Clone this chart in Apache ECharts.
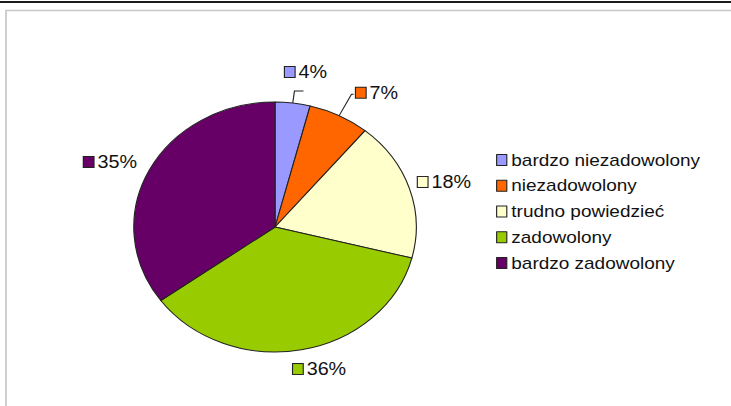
<!DOCTYPE html>
<html>
<head>
<meta charset="utf-8">
<script src="https://cdn.jsdelivr.net/npm/echarts@6/dist/echarts.min.js"></script>
<style>
  html, body { margin: 0; padding: 0; background: #fff; overflow: hidden; }
  /* the whole drawing is widened horizontally */
  #chart { width: 647px; height: 406px; transform: scaleX(1.13); transform-origin: 0 0; }
</style>
</head>
<body>
<div id="chart"></div>
<script>
// survey answers (percent of respondents)
const categories = ['bardzo niezadowolony', 'niezadowolony', 'trudno powiedzieć', 'zadowolony', 'bardzo zadowolony'];
const shares = [4, 7, 18, 36, 35];
const colors = ['#9999FF', '#FF6600', '#FFFFCC', '#99CC00', '#660066'];

const FONT = "Arial, 'Liberation Sans', sans-serif";
const CENTER = [243.4, 227];
const RADIUS = 125;

// leader line per slice
const leader = [
  { show: true,  length: 12, length2: 8 },
  { show: true,  length: 24, length2: 2 },
  { show: false, length: 12, length2: 8 },
  { show: false, length: 12, length2: 8 },
  { show: false, length: 12, length2: 8 }
];
// fine placement of each slice label relative to its default spot
const labelShift = [[-20.4, -19.1], [-2, -1.5], [-15.9, -2.7], [-21.7, 7.5], [12.9, -2.8]];

const rich = { v: { fontFamily: FONT, fontSize: 17.5, color: '#111', lineHeight: 18, padding: [0, 0, 0, 3.5] } };
colors.forEach((c, i) => {
  rich['s' + i] = { width: 8.5, height: 10, backgroundColor: c, borderColor: '#222', borderWidth: 1 };
});

const chart = echarts.init(document.getElementById('chart'), null, { renderer: 'svg' });
chart.setOption({
  animation: false,
  backgroundColor: '#fff',
  color: colors,
  graphic: [
    { type: 'rect', silent: true, shape: { x: 0, y: 1, width: 700, height: 2 }, style: { fill: '#1c1c1c' } },
    { type: 'rect', silent: true, shape: { x: 5.3, y: 10.5, width: 700, height: 500 },
      style: { fill: 'none', stroke: '#c8c8c8', lineWidth: 1.5 } }
  ],
  legend: {
    orient: 'vertical',
    left: 439,
    top: 151,
    padding: 0,
    itemWidth: 9,
    itemHeight: 11,
    itemGap: 7.75,
    icon: 'rect',
    itemStyle: { borderColor: '#222', borderWidth: 1 },
    textStyle: { fontFamily: FONT, fontSize: 16.8, color: '#111', lineHeight: 18, padding: [0, 0, 0, -1] },
    data: categories
  },
  series: [{
    type: 'pie',
    center: CENTER,
    radius: RADIUS,
    startAngle: 90,
    clockwise: true,
    avoidLabelOverlap: false,
    silent: true,
    emphasis: { disabled: true },
    itemStyle: { borderColor: '#222', borderWidth: 1 },
    label: {
      show: true,
      position: 'outside',
      formatter: p => `{s${p.dataIndex}|}{v|${p.value}%}`,
      rich: rich
    },
    labelLine: { lineStyle: { color: '#222', width: 1 } },
    labelLayout: function (p) {
      const r = p.labelRect;
      const s = labelShift[p.dataIndex];
      let ax = r.x;
      if (p.align === 'right') ax = r.x + r.width;
      else if (p.align === 'center') ax = r.x + r.width / 2;
      let ay = r.y + r.height / 2;
      if (p.verticalAlign === 'top') ay = r.y;
      else if (p.verticalAlign === 'bottom') ay = r.y + r.height;
      const out = { x: ax + s[0], y: ay + s[1] };
      if (p.labelLinePoints) out.labelLinePoints = p.labelLinePoints.map(q => q.slice());
      return out;
    },
    data: categories.map((name, i) => ({
      name: name,
      value: shares[i],
      itemStyle: { color: colors[i] },
      labelLine: leader[i]
    }))
  }]
});
</script>
</body>
</html>
